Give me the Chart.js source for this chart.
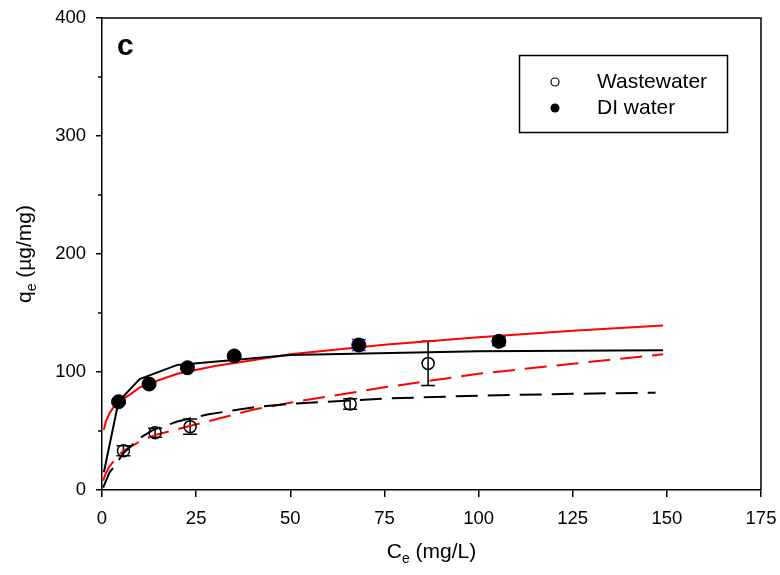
<!DOCTYPE html>
<html>
<head>
<meta charset="utf-8">
<script src="https://cdn.jsdelivr.net/npm/chart.js@4"></script>
<style>
  html, body { margin: 0; padding: 0; background: #fff; }
</style>
</head>
<body>
<canvas id="chart" width="780" height="575"></canvas>
<script>
// Measured points (Ce in mg/L, qe in ug/mg) with error half-widths.
const ceWaste  = [5.7, 14.1, 23.4, 65.9, 86.6];
const qeWaste  = [33.3, 48.6, 53.7, 72.9, 107.3];
const errWaste = [4.2, 3.8, 6.5, 4.5, 18.7];

const ceDI  = [4.4, 12.5, 22.7, 35.1, 68.2, 105.4];
const qeDI  = [74.8, 89.8, 103.6, 113.6, 122.9, 126];
const errDI = [1.5, 1.5, 1.5, 1.5, 4.6, 3.8];

// Fitted curves.
const langDIx = [0.5, 4.4, 10, 20, 50, 100, 149];
const langDIy = [15, 75, 94, 106, 114.5, 117.5, 118.5];

const freDIx = [0.5, 1, 2, 3, 5, 7.5, 10, 15, 20, 30, 40, 50, 75, 100, 125, 149];
const freDIy = [51, 58, 65, 70, 76, 81, 87, 93, 98.5, 105, 110, 115, 123, 129.5, 135, 139.5];

const langWWx = [0.3, 2, 3.8, 5.6, 10, 13.6, 20, 28, 40, 50, 75, 100, 125, 147];
const langWWy = [2, 15, 22, 31, 44, 51, 58, 64, 70, 73, 77.5, 80, 81.5, 82.5];

const freWWx = [0.3, 1, 2, 4, 5.6, 10, 14, 23, 40, 50, 75, 100, 125, 149];
const freWWy = [8, 14, 20, 28, 33, 41, 46.5, 54, 68, 74, 87, 98.5, 107, 115];

const xTicks = [0, 25, 50, 75, 100, 125, 150, 175];
const yTicks = [0, 100, 200, 300, 400];
const yMinor = [50, 150, 250, 350];

const FONT = '"Liberation Sans", Arial, sans-serif';

const pts = (xs, ys) => xs.map((x, i) => ({ x, y: ys[i] }));

function curve(xs, ys, color, dash) {
  return {
    data: pts(xs, ys),
    showLine: true,
    pointRadius: 0,
    borderColor: color,
    borderWidth: 2,
    borderDash: dash || [],
    tension: 0,
    fill: false
  };
}

// error bars, minor ticks, frame, titles, legend box and panel letter
const extras = {
  id: 'extras',
  beforeDatasetsDraw(chart) {
    const { ctx, scales: { x, y } } = chart;
    const bars = (xs, ys, es, color) => {
      ctx.save();
      ctx.strokeStyle = color;
      ctx.lineWidth = 1.5;
      xs.forEach((v, i) => {
        const px = x.getPixelForValue(v);
        const t = y.getPixelForValue(ys[i] + es[i]);
        const b = y.getPixelForValue(ys[i] - es[i]);
        ctx.beginPath();
        ctx.moveTo(px, t); ctx.lineTo(px, b);
        ctx.moveTo(px - 7, t); ctx.lineTo(px + 7, t);
        ctx.moveTo(px - 7, b); ctx.lineTo(px + 7, b);
        ctx.stroke();
      });
      ctx.restore();
    };
    bars(ceWaste, qeWaste, errWaste, '#000');
    bars(ceDI, qeDI, errDI, '#1f1fe0');
  },
  afterDraw(chart) {
    const { ctx, chartArea: a, scales: { y } } = chart;
    ctx.save();
    ctx.strokeStyle = '#000';
    ctx.lineWidth = 1.5;
    ctx.beginPath();
    ctx.moveTo(a.left, a.top); ctx.lineTo(a.right, a.top); ctx.lineTo(a.right, a.bottom);
    yMinor.forEach(v => {
      const py = y.getPixelForValue(v);
      ctx.moveTo(a.left - 4, py); ctx.lineTo(a.left, py);
    });
    ctx.stroke();

    // axis titles with subscripts
    ctx.fillStyle = '#000';
    ctx.textBaseline = 'alphabetic';
    const title = (main, sub, rest, cx, base) => {
      ctx.font = '21px ' + FONT;
      const w1 = ctx.measureText(main).width;
      const w3 = ctx.measureText(rest).width;
      ctx.font = '14px ' + FONT;
      const w2 = ctx.measureText(sub).width;
      let sx = cx - (w1 + w2 + w3) / 2;
      ctx.textAlign = 'left';
      ctx.font = '21px ' + FONT;
      ctx.fillText(main, sx, base);
      ctx.font = '14px ' + FONT;
      ctx.fillText(sub, sx + w1, base + 5);
      ctx.font = '21px ' + FONT;
      ctx.fillText(rest, sx + w1 + w2, base);
    };
    title('C', 'e', ' (mg/L)', (a.left + a.right) / 2, 558);
    ctx.save();
    ctx.translate(31, (a.top + a.bottom) / 2);
    ctx.rotate(-Math.PI / 2);
    title('q', 'e', ' (\u00b5g/mg)', 0, 0);
    ctx.restore();

    // panel letter
    ctx.font = 'bold 30px ' + FONT;
    ctx.textAlign = 'left';
    ctx.fillText('c', 117, 55);

    // legend
    ctx.lineWidth = 1.5;
    ctx.strokeRect(519.5, 55.5, 208, 77);
    ctx.beginPath();
    ctx.arc(555, 82, 4, 0, Math.PI * 2);
    ctx.lineWidth = 1.2;
    ctx.stroke();
    ctx.beginPath();
    ctx.arc(555, 108, 4.5, 0, Math.PI * 2);
    ctx.fill();
    ctx.font = '21px ' + FONT;
    ctx.textBaseline = 'middle';
    ctx.fillText('Wastewater', 597, 82);
    ctx.fillText('DI water', 597, 108);
    ctx.restore();
  }
};

const axisCommon = {
  type: 'linear',
  border: { display: true, color: '#000', width: 1.5 },
  grid: { drawOnChartArea: false, drawTicks: true, color: '#000', lineWidth: 1.5 }
};

new Chart(document.getElementById('chart').getContext('2d'), {
  type: 'scatter',
  data: {
    datasets: [
      {
        label: 'DI water',
        data: pts(ceDI, qeDI),
        pointRadius: 7,
        pointBackgroundColor: '#000',
        pointBorderColor: '#000',
        pointBorderWidth: 1,
        showLine: false
      },
      {
        label: 'Wastewater',
        data: pts(ceWaste, qeWaste),
        pointRadius: 6,
        pointBackgroundColor: 'rgba(0,0,0,0)',
        pointBorderColor: '#000',
        pointBorderWidth: 1.5,
        showLine: false
      },
      curve(langDIx, langDIy, '#000'),
      curve(freDIx, freDIy, '#ff0000'),
      curve(langWWx, langWWy, '#000', [22, 10]),
      curve(freWWx, freWWy, '#ff0000', [22, 10])
    ]
  },
  options: {
    responsive: false,
    animation: false,
    layout: { padding: { top: 18, right: 19, left: 0, bottom: 0 } },
    plugins: { legend: { display: false }, tooltip: { enabled: false } },
    scales: {
      x: {
        ...axisCommon,
        min: 0, max: 175,
        afterBuildTicks: s => { s.ticks = xTicks.map(v => ({ value: v })); },
        grid: { ...axisCommon.grid, tickLength: 7 },
        ticks: { color: '#000', font: { family: FONT, size: 18.5 }, padding: 11, maxRotation: 0, autoSkip: false },
        afterFit: s => { s.height = 85; s.paddingLeft = 0; s.paddingRight = 0; }
      },
      y: {
        ...axisCommon,
        min: 0, max: 400,
        afterBuildTicks: s => { s.ticks = yTicks.map(v => ({ value: v })); },
        grid: { ...axisCommon.grid, tickLength: 6 },
        ticks: { color: '#000', font: { family: FONT, size: 18.5 }, padding: 10 },
        afterFit: s => { s.width = 102; s.paddingTop = 0; s.paddingBottom = 0; }
      }
    }
  },
  plugins: [extras]
});
</script>
</body>
</html>
